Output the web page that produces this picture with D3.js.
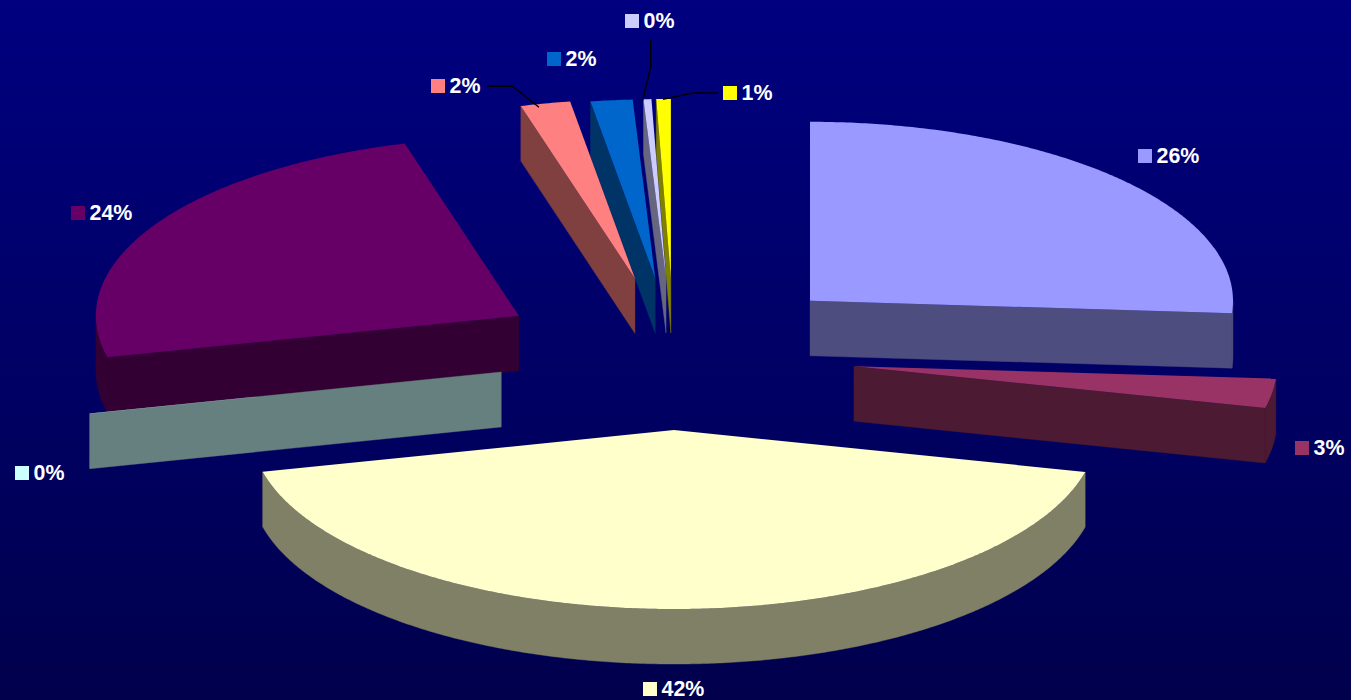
<!DOCTYPE html>
<html>
<head>
<meta charset="utf-8">
<title>Exploded 3-D pie</title>
<script src="https://cdn.jsdelivr.net/npm/d3@7"></script>
<style>
  html, body { margin: 0; padding: 0; background: #000050; overflow: hidden; }
  svg { display: block; }
  text { font-family: "Liberation Sans", Arial, sans-serif; font-weight: bold; font-size: 21.4px; fill: #fff; }
</style>
</head>
<body>
<svg id="chart" width="1351" height="700"></svg>
<script>
// Share of each slice, in percent, clockwise from twelve o'clock.
const sliceValues = [26.1, 2.66, 42.49, 0.03, 24.37, 1.9, 1.6, 0.3, 0.55];
const sliceColors = ["#9999FF", "#993366", "#FFFFCC", "#CCFFFF", "#660066", "#FF8080", "#0066CC", "#CCCCFF", "#FFFF00"];
// How far each slice is pulled away from the pie centre.
const sliceExplosion = [186, 182, 178.5, 177.6, 180, 184, 181, 181, 181];

// Where each legend swatch sits (left, top), in slice order.
const labelAnchors = [[1138, 149], [1295, 441], [643, 682], [15, 466], [71, 206], [431, 79], [547, 52], [625, 14], [723, 86]];
// Elbowed leader lines for the narrow slices at the top, keyed by slice index.
const leaderLines = {
  5: [[487, 86.3], [512.3, 86.3], [539, 107.3]],
  7: [[650.7, 40], [650.7, 66.7], [642.7, 100.7]],
  8: [[718, 93], [693, 93], [663, 99.3]]
};

const width = 1351, height = 700;
const cx = 674, cy = 354.5;      // pie centre before exploding
const rx = 423, ry = 179;        // tilted disc radii
const depth = 55;                // extrusion height

const svg = d3.select("#chart");

const defs = svg.append("defs");
const bg = defs.append("linearGradient").attr("id", "bg").attr("x1", 0).attr("y1", 0).attr("x2", 0).attr("y2", 1);
bg.append("stop").attr("offset", "0%").attr("stop-color", "#000080");
bg.append("stop").attr("offset", "100%").attr("stop-color", "#00004D");
svg.append("rect").attr("width", width).attr("height", height).attr("fill", "url(#bg)");

const pie = d3.pie().sort(null).value(d => d);
const percent = d3.format(".0%");
const total = d3.sum(sliceValues);

const arcs = pie(sliceValues).map((a, i) => {
  const mid = (a.startAngle + a.endAngle) / 2;
  return {
    ...a,
    index: i,
    color: sliceColors[i],
    side: d3.rgb(...["r", "g", "b"].map(k => d3.rgb(sliceColors[i])[k] / 2)).formatHex(),
    ox: cx + sliceExplosion[i] * Math.sin(mid),
    oy: cy - sliceExplosion[i] * (ry / rx) * Math.cos(mid)
  };
});

// Point on a slice's rim at angle t, dropped by z for the lower edge.
const rim = (d, t, z = 0) => [d.ox + rx * Math.sin(t), d.oy - ry * Math.cos(t) + z];
const line = d3.line();

function sweep(a, b) {
  const n = Math.max(2, Math.ceil(Math.abs(b - a) / (Math.PI / 360)));
  return d3.range(n + 1).map(i => a + (b - a) * i / n);
}

// Flat cut face running from the apex out to the rim at angle t.
function wall(d, t) {
  return line([[d.ox, d.oy], rim(d, t), rim(d, t, depth), [d.ox, d.oy + depth]]) + "Z";
}

// The outer curved face, only where it turns towards the viewer.
function rimWall(d) {
  const a = Math.max(d.startAngle, Math.PI / 2), b = Math.min(d.endAngle, 3 * Math.PI / 2);
  if (a >= b) return null;
  const ts = sweep(a, b);
  return line([...ts.map(t => rim(d, t)), ...ts.reverse().map(t => rim(d, t, depth))]) + "Z";
}

function topFace(d) {
  return line([[d.ox, d.oy], ...sweep(d.startAngle, d.endAngle).map(t => rim(d, t))]) + "Z";
}

// Painter's order: slices farther back (smaller apex y) go down first.
const slices = svg.append("g").selectAll("g")
  .data(arcs.slice().sort((p, q) => p.oy - q.oy))
  .join("g");

slices.each(function (d) {
  const g = d3.select(this);
  const paths = [];
  if (Math.sin(d.startAngle) < 0) paths.push(wall(d, d.startAngle));
  if (Math.sin(d.endAngle) > 0) paths.push(wall(d, d.endAngle));
  const r = rimWall(d);
  if (r) paths.push(r);
  g.selectAll("path.side").data(paths).join("path")
    .attr("class", "side")
    .attr("d", p => p)
    .attr("fill", d.side)
    .attr("stroke", d.side)
    .attr("stroke-width", 0.4);
  g.append("path")
    .attr("d", topFace(d))
    .attr("fill", d.color);
});

// Leader lines
svg.append("g").selectAll("path")
  .data(Object.values(leaderLines))
  .join("path")
  .attr("d", d => line(d))
  .attr("fill", "none")
  .attr("stroke", "#000")
  .attr("stroke-width", 1.4);

// Swatch and percentage for each slice
const labels = svg.append("g").selectAll("g")
  .data(arcs)
  .join("g")
  .attr("transform", d => `translate(${labelAnchors[d.index][0]},${labelAnchors[d.index][1]})`);

labels.append("rect")
  .attr("width", 14).attr("height", 14)
  .attr("fill", d => d.color);

labels.append("text")
  .attr("x", 18.5).attr("y", 13.7)
  .text(d => percent(d.value / total));
</script>
</body>
</html>
